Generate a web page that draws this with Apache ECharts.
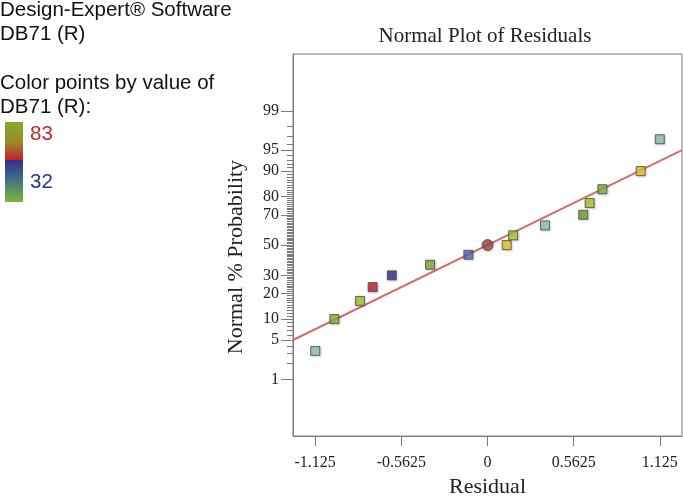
<!DOCTYPE html>
<html><head><meta charset="utf-8">
<script src="https://cdn.jsdelivr.net/npm/echarts@6/dist/echarts.min.js"></script>
<style>html,body{margin:0;padding:0;background:#fff}#c{width:683px;height:503px}</style>
</head><body><div id="c"></div>
<script>
// ---- data ----
const residuals = [-1.125, -1.0, -0.833, -0.75, -0.625, -0.375, -0.125, 0, 0.125, 0.167, 0.375, 0.625, 0.667, 0.75, 1.0, 1.125];
const probabilities = [3.33, 10, 16.67, 23.33, 30, 36.67, 43.33, 50, 50, 56.67, 63.33, 70, 76.67, 83.33, 90, 96.67];
const lineResiduals = [-1.27, 1.27];
const lineProbabilities = [5.0, 95.0];
const xTickValues = [-1.125, -0.5625, 0, 0.5625, 1.125];
const yTickLabels = [1, 5, 10, 20, 30, 50, 70, 80, 90, 95, 99];
const legendMax = 83;
const legendMin = 32;

// ---- styles ----
const pointColors = ['#8cc4a2', '#84b42a', '#9cc424', '#c01c24', '#2c2c82', '#7aaa2c', '#4a66b0', '#9c4646',
  '#e2c41e', '#a0c828', '#88c4aa', '#6e9e28', '#a2c822', '#7cb034', '#e6c420', '#88c0a0'];
const circleIndex = 7;

// inverse normal CDF (Acklam)
function probit(p) {
  const a = [-3.969683028665376e+01, 2.209460984245205e+02, -2.759285104469687e+02, 1.383577518672690e+02, -3.066479806614716e+01, 2.506628277459239e+00];
  const b = [-5.447609879822406e+01, 1.615858368580409e+02, -1.556989798598866e+02, 6.680131188771972e+01, -1.328068155288572e+01];
  const c = [-7.784894002430293e-03, -3.223964580411365e-01, -2.400758277161838e+00, -2.549671010029974e+00, 4.374664141464968e+00, 2.938163982698783e+00];
  const d = [7.784695709041462e-03, 3.224671290700398e-01, 2.445134137142996e+00, 3.754408661907416e+00];
  const pl = 0.02425, ph = 1 - pl;
  let q, r;
  if (p < pl) { q = Math.sqrt(-2 * Math.log(p)); return (((((c[0]*q+c[1])*q+c[2])*q+c[3])*q+c[4])*q+c[5]) / ((((d[0]*q+d[1])*q+d[2])*q+d[3])*q+1); }
  if (p <= ph) { q = p - 0.5; r = q*q; return (((((a[0]*r+a[1])*r+a[2])*r+a[3])*r+a[4])*r+a[5])*q / (((((b[0]*r+b[1])*r+b[2])*r+b[3])*r+b[4])*r+1); }
  q = Math.sqrt(-2 * Math.log(1 - p)); return -(((((c[0]*q+c[1])*q+c[2])*q+c[3])*q+c[4])*q+c[5]) / ((((d[0]*q+d[1])*q+d[2])*q+d[3])*q+1);
}
const z = pct => probit(pct / 100);

const majorZ = yTickLabels.map(z);
const minorZ = [];
for (let i = 1; i <= 99; i++) if (yTickLabels.indexOf(i) < 0) minorZ.push(z(i));

const points = residuals.map((r, i) => ({
  value: [r, z(probabilities[i])],
  symbol: i === circleIndex ? 'circle' : 'rect',
  symbolSize: i === circleIndex ? 11 : 9,
  itemStyle: { color: pointColors[i] }
}));
const lineData = lineResiduals.map((r, i) => [r, z(lineProbabilities[i])]);

const serif = 'Liberation Serif';
const sans = 'Liberation Sans';
const axisGray = '#7a7a7a';
const chart = echarts.init(document.getElementById('c'));
chart.setOption({
  animation: false,
  title: {
    text: 'Normal Plot of Residuals', left: 480, top: 21, textAlign: 'center',
    textStyle: { fontFamily: serif, fontSize: 21, fontWeight: 'normal', color: '#222' }
  },
  grid: { left: 293, top: 54, right: 1, bottom: 60, show: true, borderColor: axisGray, borderWidth: 1 },
  xAxis: {
    type: 'value', min: -1.27, max: 1.27, position: 'bottom',
    name: 'Residual', nameLocation: 'middle', nameGap: 36,
    nameTextStyle: { fontFamily: serif, fontSize: 22, color: '#222' },
    axisLine: { onZero: false, lineStyle: { color: axisGray } },
    axisTick: { show: true, length: 10, customValues: xTickValues, lineStyle: { color: axisGray } },
    axisLabel: { customValues: xTickValues, margin: 19, fontFamily: serif, fontSize: 16, color: '#222',
      formatter: v => String(v) },
    splitLine: { show: false }
  },
  yAxis: [{
    type: 'value', min: -3.31, max: 3.31, position: 'left',
    name: 'Normal % Probability', nameLocation: 'middle', nameGap: 46,
    nameTextStyle: { fontFamily: serif, fontSize: 22, color: '#222', padding: [0, 24, 0, 0] },
    axisLine: { show: true, onZero: false, lineStyle: { color: axisGray } },
    axisTick: { show: true, length: 12, customValues: majorZ, lineStyle: { color: axisGray } },
    axisLabel: { customValues: majorZ, margin: 14, fontFamily: serif, fontSize: 16, color: '#222',
      formatter: v => {
        let best = 0;
        majorZ.forEach((m, i) => { if (Math.abs(m - v) < Math.abs(majorZ[best] - v)) best = i; });
        return String(yTickLabels[best]);
      } },
    splitLine: { show: false }
  }, {
    type: 'value', min: -3.31, max: 3.31, position: 'left',
    axisLine: { show: false, onZero: false },
    axisTick: { show: true, length: 6, customValues: minorZ, lineStyle: { color: axisGray } },
    axisLabel: { show: false },
    splitLine: { show: false }
  }],
  series: [{
    type: 'line', data: lineData, showSymbol: false, symbol: 'none',
    lineStyle: { color: '#d46e6e', width: 2 }, z: 1, silent: true
  }, {
    type: 'scatter', data: points, z: 2,
    itemStyle: { borderColor: '#4a4a4a', borderWidth: 1, shadowBlur: 2, shadowColor: 'rgba(0,0,0,0.2)', shadowOffsetX: 1, shadowOffsetY: 1 }
  }],
  graphic: [
    { type: 'text', left: 0, top: 0, style: { text: 'Design-Expert® Software', font: '20.5px ' + sans, fill: '#111' } },
    { type: 'text', left: 0, top: 24, style: { text: 'DB71 (R)', font: '20.5px ' + sans, fill: '#111' } },
    { type: 'text', left: 0, top: 73, style: { text: 'Color points by value of', font: '20.5px ' + sans, fill: '#111' } },
    { type: 'text', left: 0, top: 97, style: { text: 'DB71 (R):', font: '20.5px ' + sans, fill: '#111' } },
    { type: 'rect', shape: { x: 5, y: 122, width: 18, height: 80 },
      style: { fill: new echarts.graphic.LinearGradient(0, 0, 0, 1, [
        { offset: 0, color: '#82ac2e' }, { offset: 0.25, color: '#9a8a2c' }, { offset: 0.47, color: '#c42024' },
        { offset: 0.48, color: '#2e3190' }, { offset: 0.7, color: '#3f6b86' }, { offset: 1, color: '#80b63a' }]) } },
    { type: 'text', left: 30, top: 124, style: { text: String(legendMax), font: '20.5px ' + sans, fill: '#c1272d' } },
    { type: 'text', left: 30, top: 172, style: { text: String(legendMin), font: '20.5px ' + sans, fill: '#2e3192' } }
  ]
});
</script></body></html>
